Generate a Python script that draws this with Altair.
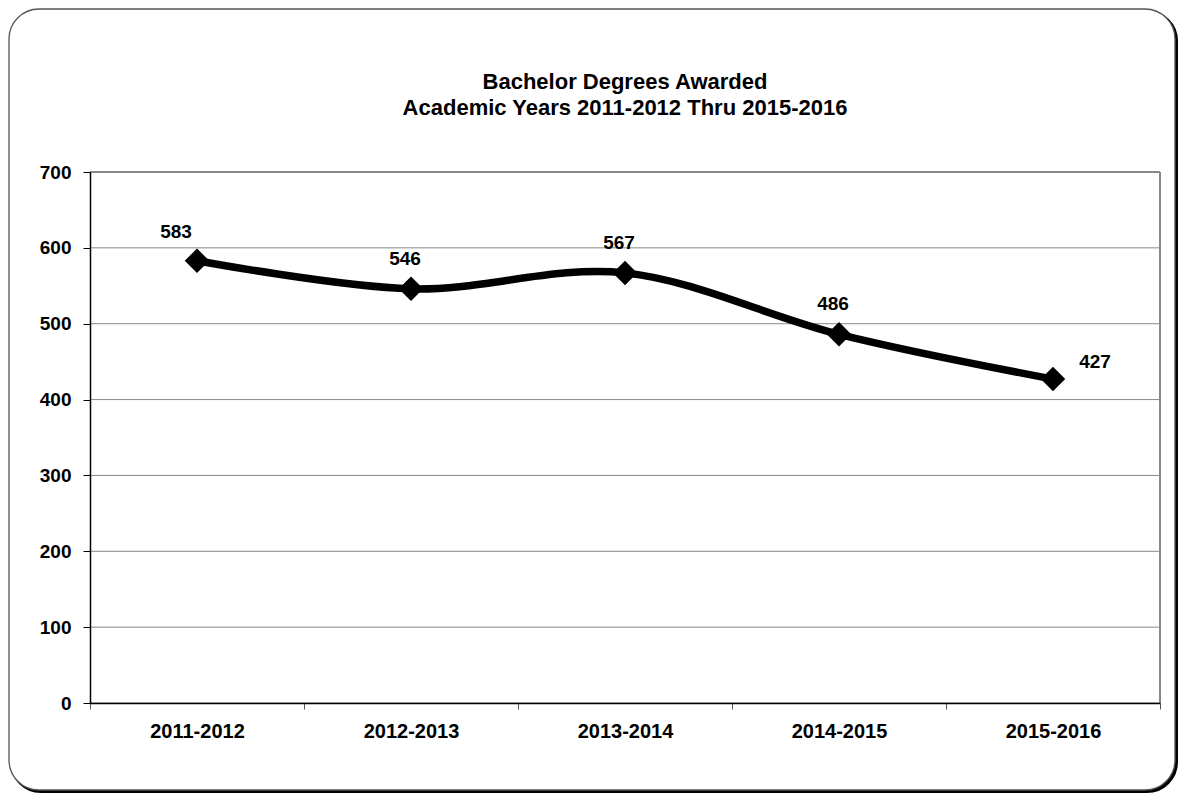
import altair as alt
import pandas as pd

years = ["2011-2012", "2012-2013", "2013-2014", "2014-2015", "2015-2016"]
degrees = [583, 546, 567, 486, 427]
y_ticks = [0, 100, 200, 300, 400, 500, 600, 700]
title_lines = ["Bachelor Degrees Awarded", "Academic Years 2011-2012 Thru 2015-2016"]

df = pd.DataFrame({"year": years, "degrees": degrees, "idx": list(range(len(years)))})
grid_df = pd.DataFrame({"v": y_ticks})
FONT = "Liberation Sans, Arial, sans-serif"

frame_df = pd.DataFrame({"a": [0]})
shadow = alt.Chart(frame_df).mark_rect(
    cornerRadius=30, fill="#000000", stroke="#000000", strokeWidth=2
).encode(x=alt.value(-79), x2=alt.value(1087), y=alt.value(-161), y2=alt.value(620))
frame = alt.Chart(frame_df).mark_rect(
    cornerRadius=30, fill="white", stroke="#555555", strokeWidth=1.3
).encode(x=alt.value(-81), x2=alt.value(1085), y=alt.value(-163), y2=alt.value(618))

t1 = alt.Chart(frame_df).mark_text(fontSize=22, fontWeight="bold", font=FONT, color="#000").encode(
    x=alt.value(535), y=alt.value(-90), text=alt.value(title_lines[0]))
t2 = alt.Chart(frame_df).mark_text(fontSize=22, fontWeight="bold", font=FONT, color="#000").encode(
    x=alt.value(535), y=alt.value(-64), text=alt.value(title_lines[1]))

ysc = alt.Scale(domain=[0, 700], nice=False)
grid = alt.Chart(grid_df).mark_rule(color="#888888", strokeWidth=1).encode(
    y=alt.Y("v:Q", scale=ysc, title=None))
right_border = alt.Chart(frame_df).mark_rule(color="#888888", strokeWidth=2).encode(
    x=alt.value(1070), y=alt.value(0), y2=alt.value(531))
top_border = alt.Chart(frame_df).mark_rule(color="#888888", strokeWidth=2).encode(
    x=alt.value(0), x2=alt.value(1070), y=alt.value(0))

base = alt.Chart(df).encode(
    x=alt.X("year:N", sort=years, title=None,
            scale=alt.Scale(paddingInner=0, paddingOuter=0),
            axis=alt.Axis(labelAngle=0, grid=False, tickBand="extent", domainColor="#000",
                          domainWidth=1.5, tickColor="#555", tickSize=6, labelPadding=12,
                          labelFontSize=20, labelFontWeight="bold", labelFont=FONT,
                          labelColor="#000", zindex=1)),
    y=alt.Y("degrees:Q", title=None, scale=ysc,
            axis=alt.Axis(values=y_ticks, grid=False, domainColor="#000", domainWidth=1.5,
                          tickColor="#000", tickSize=7, labelPadding=12, labelFontSize=19,
                          labelFontWeight="bold", labelFont=FONT, labelColor="#000", zindex=1)),
)

line = base.mark_line(color="black", strokeWidth=7.5, interpolate="cardinal")
pts = base.mark_point(shape="diamond", filled=True, color="black", size=600, opacity=1)

txt_style = dict(fontSize=19, fontWeight="bold", font=FONT, color="#000")
lab_first = base.transform_filter("datum.idx == 0").mark_text(dx=-21, dy=-29, **txt_style).encode(text="degrees:Q")
lab_mid = base.transform_filter("datum.idx > 0 && datum.idx < 4").mark_text(dx=-6, dy=-30, **txt_style).encode(text="degrees:Q")
lab_last = base.transform_filter("datum.idx == 4").mark_text(dx=42, dy=-17, **txt_style).encode(text="degrees:Q")

chart = alt.layer(shadow, frame, t1, t2, grid, right_border, top_border, line, pts,
                  lab_first, lab_mid, lab_last).properties(
    width=1070, height=531,
    autosize=alt.AutoSizeParams(type="none"),
    padding={"left": 82, "top": 164, "right": 19, "bottom": 90},
).configure_view(stroke=None).configure(background="white")

chart.save("out.html", embed_options={"renderer": "svg", "actions": False})
